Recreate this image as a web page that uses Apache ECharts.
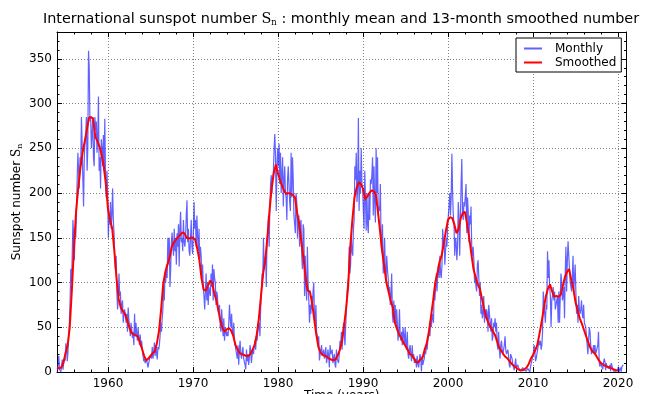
<!DOCTYPE html>
<html><head><meta charset="utf-8">
<script src="https://cdn.jsdelivr.net/npm/echarts@6/dist/echarts.min.js"></script>
<style>html,body{margin:0;padding:0;background:#fff}#c{width:648px;height:394px}</style>
</head><body><div id="c"></div>
<script>
// Monthly mean sunspot number, from January 1954 (12 values per year)
const monthlyStart = 1954;
const monthly = [
0.3,0.8,18,3,1.3,0.3,8,14,2.5,11.7,15.3,12.7,
32,28,12,22,40,55,80,115,100,130,170,150,
125,160,150,180,215,245,225,205,240,230,285,255,
215,185,240,255,265,285,225,250,359,340,280,285,
250,265,285,240,230,285,270,280,245,260,308,225,
240,205,260,250,230,265,225,283,215,195,225,200,
150,175,165,190,160,175,205,170,155,125,115,130,
90,70,80,110,85,90,65,75,80,55,65,70,
72,55,65,45,72,58,50,40,55,48,38,45,
30,65,40,55,42,35,50,38,30,42,28,35,
25,18,12,15,10,8,14,12,5,10,8,18,
20,15,28,15,22,33,18,30,22,14,28,25,
30,40,55,45,60,70,95,80,110,100,120,105,
150,125,150,95,115,145,156,140,130,160,135,150,
120,155,140,165,118,160,179,145,150,135,170,145,
140,150,175,192,145,160,135,130,150,170,140,132,
155,190,160,170,140,175,150,135,160,125,140,130,
105,120,95,85,70,90,110,80,100,75,95,90,
85,110,95,120,80,115,105,100,75,90,85,70,
65,75,50,45,70,55,40,60,35,50,45,40,
45,40,55,75,60,50,65,45,40,55,35,30,
25,20,15,30,8,25,35,20,15,22,28,15,
15,8,3,25,12,20,8,15,30,22,10,20,
25,20,30,35,25,40,35,45,50,55,40,70,
90,110,105,150,115,125,130,95,150,155,175,140,
185,210,220,200,215,225,250,266,240,180,230,250,
230,255,210,245,200,220,240,185,215,230,200,195,
170,215,230,210,190,180,245,195,240,215,175,165,
155,200,190,150,170,175,140,165,170,130,115,165,
160,85,130,95,80,140,100,80,55,75,65,85,
70,90,100,60,55,75,45,40,30,40,13,20,
25,30,18,20,25,15,20,28,10,15,25,18,
5,30,20,18,25,10,12,20,8,5,25,15,
15,10,20,35,30,45,25,40,55,45,30,50,
70,90,100,105,140,110,120,150,135,130,160,170,
230,215,245,190,205,284,180,225,200,250,210,205,
180,160,225,195,158,200,165,155,200,170,215,210,
220,240,175,230,190,167,250,200,240,175,185,180,
210,145,135,165,110,125,150,115,100,130,115,105,
90,95,75,85,110,65,55,80,60,75,50,70,
55,35,45,70,40,35,45,30,50,40,30,50,
30,25,45,20,15,25,30,20,12,30,15,20,
10,8,15,5,18,10,5,12,20,15,0.5,18,
8,12,15,25,20,30,25,35,40,45,40,60,
50,60,65,55,90,80,95,110,90,110,120,105,
130,110,105,120,160,145,150,120,135,150,140,165,
165,185,200,175,195,244,200,175,165,130,150,145,
125,140,190,175,130,170,210,238,180,170,190,185,
185,210,155,195,180,145,175,165,185,140,130,140,
125,100,105,95,90,120,125,105,85,100,65,75,
60,65,85,55,70,60,70,65,45,75,65,55,
45,60,35,40,55,50,60,45,55,30,25,45,
25,15,30,35,25,20,18,30,40,25,20,22,
25,18,8,5,20,18,15,8,5,2,4,15,
5,3,8,5,4,5,1,0,2,5,7,2,
2,1,1,1,4,3,5,0,6,7,7,17,
20,30,25,12,15,20,25,30,35,30,35,25,
30,45,90,75,65,55,75,70,135,105,125,95,
85,50,80,85,95,80,90,70,70,80,85,55,
90,55,85,110,100,80,85,95,60,110,140,90,
125,146,130,115,100,95,90,105,130,90,105,120,
90,65,75,55,85,70,65,70,80,65,60,75,
55,55,50,40,30,20,35,50,45,30,20,20,
25,30,20,30,20,20,18,30,45,10,6,10,
8,12,3,10,15,12,2,10,5,5,7,4,
8,1,10,9,10,1,1,1,1,1,0.5,1.5,
6,0.2,1.5,5,0.3,6,7,8
];
// 13-month smoothed number, quarterly samples from 1954.0 (4 values per year)
const smoothedStart = 1954;
const smoothed = [
5,4,5,10, 21,30,50,92, 140,180,206,228, 245,257,270,284, 285,283,263,258,
252,243,230,210, 182,170,160,135, 105,82,72,68, 65,58,50,44, 42,41,40,33,
26,18,13,15, 18,21,23,32, 46,70,99,112, 120,128,140,145, 148,151,153,156,
155,150,149,150, 150,148,138,125, 105,92,91,96, 102,100,88,80, 68,56,48,45,
48,49,46,40, 30,25,21,20, 19,18,18,20, 25,30,42,60, 85,110,125,150,
180,205,222,232, 222,214,208,202, 199,200,199,198, 195,178,165,145, 128,105,91,90,
78,60,42,28, 22,19,18,17, 15,14,13,14, 18,24,33,50, 70,95,140,170,
195,206,212,210, 205,193,196,200, 203,202,199,180, 158,135,118,100, 90,80,72,55,
48,42,38,33, 29,25,20,19, 15,11,11,14, 16,25,32,45, 62,80,100,110,
123,130,143,158, 170,173,172,165, 155,160,172,178, 179,165,150,132, 115,106,98,93,
82,70,61,55, 50,46,42,35, 28,24,20,17, 15,12,9,7, 5,3,2,2,
3,5,9,15, 19,24,30,42, 55,70,84,93, 98,90,84,85, 84,86,96,106,
112,115,103,93, 78,69,60,54, 47,40,33,27, 23,21,17,13, 10,8,7,6,
5,4,3,2, 2
];
const seriesNames = ['Monthly', 'Smoothed'];
const xMajorTicks = [1960, 1970, 1980, 1990, 2000, 2010, 2020];
const xMinorTicks = [1954,1956,1958,1960,1962,1964,1966,1968,1970,1972,1974,1976,1978,1980,1982,1984,1986,1988,1990,1992,1994,1996,1998,2000,2002,2004,2006,2008,2010,2012,2014,2016,2018,2020];
const yMajorTicks = [0, 50, 100, 150, 200, 250, 300, 350];
const yMinorTicks = [0,10,20,30,40,50,60,70,80,90,100,110,120,130,140,150,160,170,180,190,200,210,220,230,240,250,260,270,280,290,300,310,320,330,340,350,360,370,380];
const xRange = [1954, 2021];
const yRange = [0, 380];

const FONT = 'DejaVu Sans';
const monthlyData = monthly.map((v, i) => [monthlyStart + (i + 0.5) / 12, v]);
const smoothedData = smoothed.map((v, i) => [smoothedStart + i / 4, v]);

function xAxis(pos, ticks, len, line, labels, split) {
  return {
    type: 'value', position: pos, min: xRange[0], max: xRange[1],
    axisLine: { show: line, onZero: false, lineStyle: { color: '#000', width: 1 } },
    axisTick: { show: true, inside: true, length: len, customValues: ticks, lineStyle: { color: '#000', width: 1 } },
    axisLabel: { show: labels, customValues: ticks, margin: 6, color: '#000', fontSize: 12, fontFamily: FONT, formatter: v => String(v) },
    splitLine: { show: split, lineStyle: { color: '#808080', width: 1, type: [1, 2] } },
    minorTick: { show: false }, minorSplitLine: { show: false }
  };
}
function yAxis(pos, ticks, len, line, labels, split) {
  return {
    type: 'value', position: pos, min: yRange[0], max: yRange[1],
    axisLine: { show: line, onZero: false, lineStyle: { color: '#000', width: 1 } },
    axisTick: { show: true, inside: true, length: len, customValues: ticks, lineStyle: { color: '#000', width: 1 } },
    axisLabel: { show: labels, customValues: ticks, margin: 5, color: '#000', fontSize: 12, fontFamily: FONT, formatter: v => String(v) },
    splitLine: { show: split, lineStyle: { color: '#808080', width: 1, type: [1, 2] } },
    minorTick: { show: false }, minorSplitLine: { show: false }
  };
}

const xMain = xAxis('bottom', xMajorTicks, 5, true, true, true);
xMain.name = 'Time (years)';
xMain.nameLocation = 'middle';
xMain.nameGap = 18;
xMain.nameMoveOverlap = false;
xMain.nameTextStyle = { fontSize: 12, fontFamily: FONT, color: '#000', verticalAlign: 'top' };
const yMain = yAxis('left', yMajorTicks, 5, true, true, true);
yMain.name = 'Sunspot number {s|S}{n|n}';
yMain.nameLocation = 'middle';
yMain.nameGap = 33;
yMain.nameRotate = 90;
yMain.nameMoveOverlap = false;
yMain.nameTextStyle = { fontSize: 12, fontFamily: FONT, color: '#000', verticalAlign: 'bottom',
  rich: { s: { fontSize: 12, fontFamily: 'DejaVu Serif', color: '#000' },
          n: { fontSize: 8, fontFamily: 'DejaVu Serif', color: '#000', padding: [7, 0, 0, 0] } } };

const chart = echarts.init(document.getElementById('c'), null, { renderer: 'canvas' });
chart.setOption({
  animation: false,
  backgroundColor: '#fff',
  grid: { left: 57, right: 21.5, top: 32, bottom: 22, containLabel: false, outerBoundsMode: 'none' },
  graphic: [{
    type: 'text', x: 341, y: 19, z: 10,
    style: {
      text: 'International sunspot number {s|S}{n|n} : monthly mean and 13-month smoothed number',
      fontSize: 14.4, fontFamily: FONT, fill: '#000', align: 'center', verticalAlign: 'middle',
      rich: { s: { fontSize: 14.4, fontFamily: 'DejaVu Serif', fill: '#000' },
              n: { fontSize: 8.5, fontFamily: 'DejaVu Serif', fill: '#000', padding: [8, 0, 0, 0] } }
    }
  }],
  legend: {
    data: seriesNames, orient: 'vertical', left: 516, top: 38,
    icon: 'rect', itemWidth: 18, itemHeight: 2, itemGap: 1,
    backgroundColor: '#fff', borderColor: '#000', borderWidth: 1, borderRadius: 0,
    padding: [4, 5, 3, 8],
    textStyle: { fontSize: 12, fontFamily: FONT, color: '#000', padding: [0, 0, 0, 8], lineHeight: 13 }
  },
  xAxis: [
    xMain,
    xAxis('bottom', xMinorTicks, 2.5, false, false, false),
    xAxis('top', xMajorTicks, 5, true, false, false),
    xAxis('top', xMinorTicks, 2.5, false, false, false)
  ],
  yAxis: [
    yMain,
    yAxis('left', yMinorTicks, 2.5, false, false, false),
    yAxis('right', yMajorTicks, 5, true, false, false),
    yAxis('right', yMinorTicks, 2.5, false, false, false)
  ],
  series: [
    { name: seriesNames[0], type: 'line', data: monthlyData, xAxisIndex: 0, yAxisIndex: 0,
      showSymbol: false, symbol: 'none', color: 'rgba(30,30,255,0.7)',
      lineStyle: { width: 1.2, color: 'rgba(30,30,255,0.7)' }, z: 2 },
    { name: seriesNames[1], type: 'line', data: smoothedData, xAxisIndex: 0, yAxisIndex: 0,
      showSymbol: false, symbol: 'none', color: '#ff0000',
      lineStyle: { width: 2, color: '#ff0000' }, z: 3 }
  ]
});
</script>
</body></html>
